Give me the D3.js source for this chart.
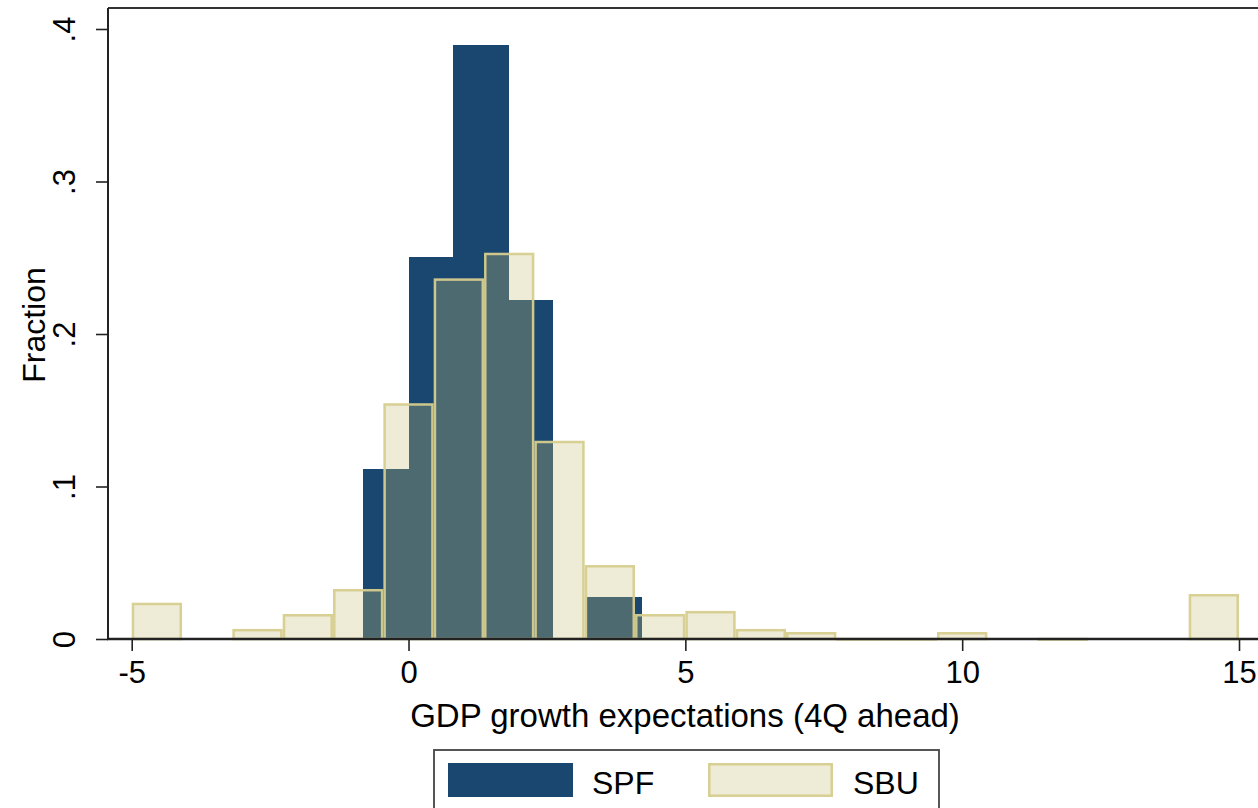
<!DOCTYPE html>
<html>
<head>
<meta charset="utf-8">
<script src="https://cdn.jsdelivr.net/npm/d3@7/dist/d3.min.js"></script>
<style>
  html, body { margin: 0; padding: 0; background: #fff; }
  svg { display: block; }
  text { font-family: "Liberation Sans", Arial, Helvetica, sans-serif; fill: #000; }
</style>
</head>
<body>
<svg id="chart" width="1258" height="808"></svg>
<script>
// ---------------- DATA ----------------
// SPF histogram bars: [left edge, right edge] in GDP growth units, and fraction
const spfLeft   = [-0.816, 0.00, 0.80, 1.82, 3.22];
const spfRight  = [ 0.00, 0.80, 1.82, 2.61, 4.22];
const spfValues = [0.1115, 0.2503, 0.3895, 0.2223, 0.0275];

// SBU histogram: 22 equal bins from -5 to 15
const sbuStart = -5;
const sbuEnd = 15;
const sbuValues = [0.0238, 0, 0.0066, 0.0164, 0.0328, 0.1546, 0.2365, 0.2533,
                   0.1300, 0.0485, 0.0164, 0.0184, 0.0066, 0.0046, 0.0008, 0.0008,
                   0.0046, 0, 0.0008, 0, 0, 0.0295];

const xTicks = [-5, 0, 5, 10, 15];
const yTicks = [0, 0.1, 0.2, 0.3, 0.4];
const seriesNames = ["SPF", "SBU"];
const xTitle = "GDP growth expectations (4Q ahead)";
const yTitle = "Fraction";

// ---------------- LAYOUT ----------------
const svg = d3.select("#chart");
const plotLeft = 108, plotTop = 8, plotBottom = 639, plotRight = 1270;

const x = d3.scaleLinear().domain([-5, 15]).range([131.7, 1239]);
const y = d3.scaleLinear().domain([0, 0.4]).range([639, 29]);

const navy = "#1a476f";
const sandFill = "rgba(200,190,120,0.30)";
const sandStroke = "rgba(214,206,142,0.95)";

// frame (left + top visible)
svg.append("line").attr("x1", plotLeft).attr("x2", plotRight)
  .attr("y1", plotTop).attr("y2", plotTop)
  .attr("stroke", "#333").attr("stroke-width", 2);

// SPF bars
const spfData = spfValues.map((v, i) => ({ x0: spfLeft[i], x1: spfRight[i], v }));
svg.append("g").attr("shape-rendering", "crispEdges")
  .selectAll("rect").data(spfData).join("rect")
  .attr("x", d => Math.round(x(d.x0)))
  .attr("width", d => Math.round(x(d.x1)) - Math.round(x(d.x0)))
  .attr("y", d => y(d.v))
  .attr("height", d => y(0) - y(d.v))
  .attr("fill", navy);

// SBU bars
const sbuW = (sbuEnd - sbuStart) / sbuValues.length;
const sbuData = sbuValues.map((v, i) => ({ x0: sbuStart + i * sbuW, x1: sbuStart + (i + 1) * sbuW, v }))
  .filter(d => d.v > 0);
svg.append("g").selectAll("rect").data(sbuData).join("rect")
  .attr("x", d => x(d.x0) + 1.25)
  .attr("width", d => x(d.x1) - x(d.x0) - 2.5)
  .attr("y", d => y(d.v) + 1.25)
  .attr("height", d => Math.max(0.5, y(0) - y(d.v) - 1.25))
  .attr("fill", sandFill)
  .attr("stroke", sandStroke)
  .attr("stroke-width", 2.5);

// Y axis
const yAxis = d3.axisLeft(y).tickValues(yTicks).tickSize(12).tickPadding(0)
  .tickFormat(d => d === 0 ? "0" : d3.format(".1f")(d).replace(/^0/, ""));
const gy = svg.append("g").attr("transform", `translate(${plotLeft},0)`).call(yAxis);
gy.select(".domain").remove();
gy.selectAll(".tick line").attr("stroke", "#222").attr("stroke-width", 1.6);
gy.selectAll(".tick text")
  .attr("font-size", 31)
  .attr("text-anchor", "middle")
  .attr("x", 0).attr("dy", 0)
  .attr("transform", "translate(-33,0) rotate(-90)")
  .attr("y", 0)
  .attr("dominant-baseline", "auto");
svg.append("line").attr("x1", plotLeft).attr("x2", plotLeft)
  .attr("y1", plotTop).attr("y2", plotBottom + 1)
  .attr("stroke", "#222").attr("stroke-width", 2);

// X axis
const xAxis = d3.axisBottom(x).tickValues(xTicks).tickSize(12).tickPadding(6)
  .tickFormat(d3.format("d"));
const gx = svg.append("g").attr("transform", `translate(0,${plotBottom})`).call(xAxis);
gx.select(".domain").remove();
gx.selectAll(".tick line").attr("stroke", "#222").attr("stroke-width", 1.6);
gx.selectAll(".tick text").attr("font-size", 31).attr("dy", "0.85em")
  .text(d => d < 0 ? "-" + Math.abs(d) : String(d));
svg.append("line").attr("x1", plotLeft - 1).attr("x2", plotRight)
  .attr("y1", plotBottom).attr("y2", plotBottom)
  .attr("stroke", "#222").attr("stroke-width", 2.4);

// Titles
svg.append("text").attr("x", 685).attr("y", 727)
  .attr("text-anchor", "middle").attr("font-size", 33).text(xTitle);
svg.append("text").attr("transform", "translate(45,325) rotate(-90)")
  .attr("text-anchor", "middle").attr("font-size", 32).text(yTitle);

// Legend
const lg = svg.append("g");
lg.append("rect").attr("x", 434).attr("y", 750).attr("width", 505).attr("height", 80)
  .attr("fill", "#fff").attr("stroke", "#444").attr("stroke-width", 1.8);
const legendItems = [
  { name: seriesNames[0], kx: 448, tx: 592, fill: navy, stroke: "none" },
  { name: seriesNames[1], kx: 708, tx: 853, fill: sandFill, stroke: sandStroke }
];
legendItems.forEach(it => {
  lg.append("rect").attr("x", it.kx + (it.stroke === "none" ? 0 : 1.25))
    .attr("y", 763 + (it.stroke === "none" ? 0 : 1.25))
    .attr("width", 125 - (it.stroke === "none" ? 0 : 2.5))
    .attr("height", 34 - (it.stroke === "none" ? 0 : 2.5))
    .attr("fill", it.fill).attr("stroke", it.stroke).attr("stroke-width", 2.5);
  lg.append("text").attr("x", it.tx).attr("y", 794).attr("font-size", 32).text(it.name);
});
</script>
</body>
</html>
